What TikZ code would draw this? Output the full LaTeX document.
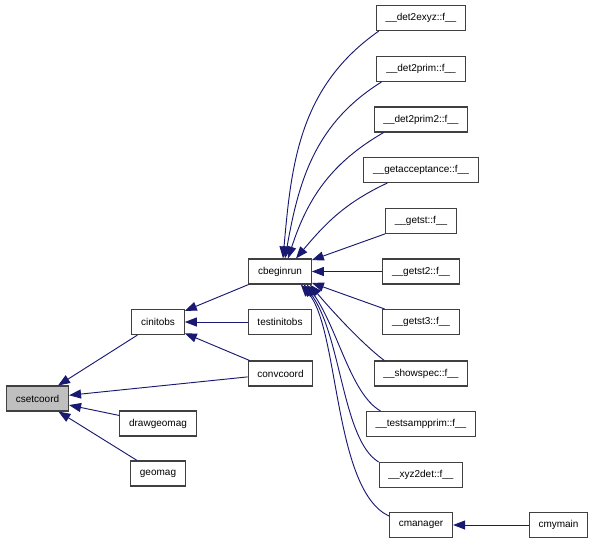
\documentclass[tikz,border=0pt]{standalone}
\usepackage{fontspec}
\setmainfont{Liberation Sans}
\usetikzlibrary{arrows.meta}
\definecolor{edgeblue}{RGB}{25,25,112}
\tikzset{
    fn/.style={draw=black!75, line width=0.8pt, rectangle, minimum height=18.75pt,
        inner xsep=7pt, font=\fontsize{7.5}{9}\selectfont},
    call/.style={draw=edgeblue, line width=0.7pt,
        -{Triangle[length=9pt,width=6.75pt]}, edgeblue}
}
\begin{document}
\begin{tikzpicture}[x=0.75pt, y=-0.75pt]
        \useasboundingbox (0,0) rectangle (596,544);
        % ~~~~ Funciones ~~~~ %
        \node[fn, fill=black!25] (csetcoord) at (37.5,398.5) {csetcoord};
        \node[fn] (cinitobs) at (158,322) {cinitobs};
        \node[fn] (drawgeomag) at (158,423.5) {drawgeomag};
        \node[fn] (geomag) at (158,473.5) {geomag};
        \node[fn] (cbeginrun) at (280,271.5) {cbeginrun};
        \node[fn] (testinitobs) at (280,322) {testinitobs};
        \node[fn] (convcoord) at (280.5,373.5) {convcoord};

        \node[fn] (det2exyz) at (421,18) {\_\_det2exyz::f\_\_};
        \node[fn] (det2prim) at (421,69) {\_\_det2prim::f\_\_};
        \node[fn] (det2primb) at (421,119.5) {\_\_det2prim2::f\_\_};
        \node[fn] (getaccept) at (421,170) {\_\_getacceptance::f\_\_};
        \node[fn] (getst) at (421,221) {\_\_getst::f\_\_};
        \node[fn] (getstb) at (421,271.5) {\_\_getst2::f\_\_};
        \node[fn] (getstc) at (421,322) {\_\_getst3::f\_\_};
        \node[fn] (showspec) at (421,373.5) {\_\_showspec::f\_\_};
        \node[fn] (testsamp) at (421,424) {\_\_testsampprim::f\_\_};
        \node[fn] (xyzdet) at (421,475) {\_\_xyz2det::f\_\_};
        \node[fn] (cmanager) at (421,525) {cmanager};
        \node[fn] (cmymain) at (558.5,525) {cmymain};

        % ~~~~ Llamadas a csetcoord ~~~~ %
        \draw[call] (cinitobs) -- (csetcoord);
        \draw[call] (convcoord) -- (csetcoord);
        \draw[call] (drawgeomag) -- (csetcoord);
        \draw[call] (geomag) -- (csetcoord);

        % ~~~~ Llamadas a cinitobs ~~~~ %
        \draw[call] (cbeginrun) -- (cinitobs);
        \draw[call] (testinitobs) -- (cinitobs);
        \draw[call] (convcoord) -- (cinitobs);

        % ~~~~ Llamadas a cbeginrun ~~~~ %
        \draw[call] ([xshift=2.25pt]det2exyz.south west) to[out=215, in=85]
            ([xshift=2.25pt]cbeginrun.north);
        \draw[call] ([xshift=3.75pt]det2prim.south west) to[out=212, in=80]
            ([xshift=3.75pt]cbeginrun.north);
        \draw[call] ([xshift=7.5pt]det2primb.south west) to[out=210, in=72]
            ([xshift=6pt]cbeginrun.north);
        \draw[call] ([xshift=18pt]getaccept.south west) to[out=205, in=50]
            ([xshift=12pt]cbeginrun.north);
        \draw[call] (getst) -- (cbeginrun);
        \draw[call] (getstb) -- (cbeginrun);
        \draw[call] (getstc) -- (cbeginrun);
        \draw[call] ([xshift=8pt]showspec.north west)
            to[out=143, in=-50, out distance=22pt, in distance=22pt]
            ([xshift=-1.5pt]cbeginrun.south east);
        \draw[call] ([xshift=11pt]testsamp.north west)
            to[out=150, in=-55, out distance=26pt, in distance=41pt]
            ([xshift=-3.75pt]cbeginrun.south east);
        \draw[call] (xyzdet.north west)
            to[out=149, in=-53, out distance=32pt, in distance=47pt]
            ([xshift=-6pt]cbeginrun.south east);
        \draw[call] ([yshift=-3pt]cmanager.north west)
            to[out=155, in=-49, out distance=46pt, in distance=44pt]
            ([xshift=-8.25pt]cbeginrun.south east);
        \draw[call] (cmymain) -- (cmanager);
    \end{tikzpicture}
\end{document}
